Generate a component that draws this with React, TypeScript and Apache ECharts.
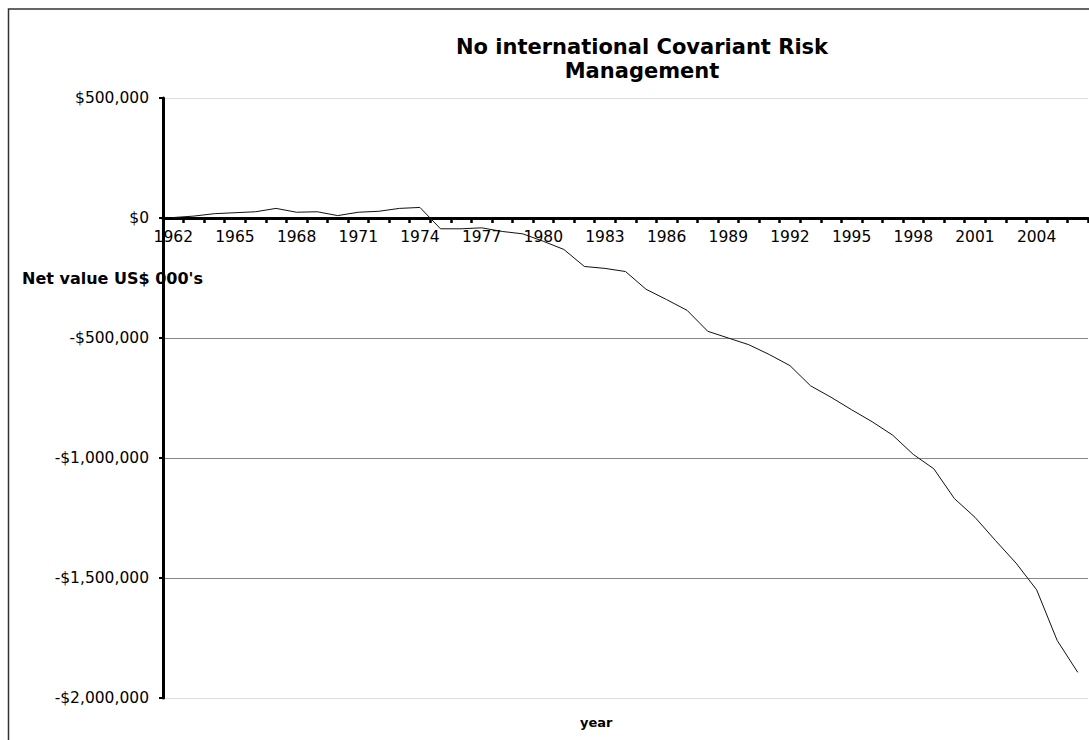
import React, { useEffect, useRef } from "react";
import * as echarts from "echarts";

// Years on the category axis
const years: string[] = [];
for (let y = 1962; y <= 2006; y++) years.push(String(y));

// Net value per year (US$ 000's)
const netValue: number[] = [
  2000, 8000, 18000, 22000, 26000, 40000, 24000, 26000, 10000, 24000,
  28000, 40000, 44000, -45000, -45000, -41000, -56000, -66000, -97000, -131000,
  -202000, -210000, -223000, -297000, -340000, -385000, -472000, -500000, -528000, -569000,
  -615000, -699000, -747000, -799000, -849000, -905000, -985000, -1045000, -1169000, -1247000,
  -1344000, -1438000, -1549000, -1760000, -1893000,
];

const titleText = "No international Covariant Risk\nManagement";
const yAxisName = "Net value US$ 000's";
const xAxisName = "year";

const FONT = "DejaVu Sans";

const Y_MIN = -2000000;
const Y_MAX = 500000;
const GRID_TOP = 98;
const GRID_HEIGHT = 600;
// distance from the bottom of the grid up to the zero line
const zeroOffset = -GRID_HEIGHT * (0 - Y_MIN) / (Y_MAX - Y_MIN);

const money = (v: number) =>
  (v < 0 ? "-" : "") + "$" + Math.abs(v).toLocaleString("en-US");

export default function App() {
  const ref = useRef<HTMLDivElement>(null);

  useEffect(() => {
    if (!ref.current) return;
    const chart = echarts.init(ref.current, undefined, { renderer: "svg" });
    chart.setOption({
      animation: false,
      backgroundColor: "#ffffff",
      title: {
        text: titleText,
        left: 637,
        top: 30,
        textAlign: "center",
        textStyle: {
          fontFamily: FONT,
          fontSize: 21,
          fontWeight: "bold",
          lineHeight: 24,
          color: "#000",
        },
      },
      grid: { left: 163, top: GRID_TOP, width: 925, height: GRID_HEIGHT },
      xAxis: {
        type: "category",
        data: years,
        boundaryGap: true,
        offset: zeroOffset,
        axisLine: { onZero: false, lineStyle: { color: "#000", width: 3 } },
        axisTick: {
          show: true,
          interval: 0,
          length: 5,
          lineStyle: { color: "#000", width: 2.5 },
        },
        axisLabel: {
          interval: 2,
          margin: 11,
          color: "#000",
          fontFamily: FONT,
          fontSize: 15.5,
        },
        splitLine: { show: false },
        z: 3,
      },
      yAxis: {
        type: "value",
        min: Y_MIN,
        max: Y_MAX,
        interval: 500000,
        axisLine: { show: true, lineStyle: { color: "#000", width: 3 } },
        axisTick: { show: true, length: 4, lineStyle: { color: "#000", width: 2 } },
        axisLabel: {
          formatter: money,
          margin: 14,
          color: "#000",
          fontFamily: FONT,
          fontSize: 15.5,
        },
        splitLine: {
          show: true,
          lineStyle: {
            color: ["#dddddd", "#888888", "#888888", "#888888", "#888888", "#dddddd"],
            width: 1,
          },
        },
      },
      graphic: [
        {
          type: "rect",
          shape: { x: 8.5, y: 9, width: 1200, height: 800 },
          style: { fill: "none", stroke: "#333", lineWidth: 1.5 },
          silent: true,
          z: -1,
        },
        {
          type: "text",
          left: 22,
          top: 270,
          style: {
            text: yAxisName,
            fill: "#000",
            font: `bold 16px "${FONT}"`,
          },
          z: 10,
        },
        {
          type: "text",
          left: 580,
          top: 716,
          style: {
            text: xAxisName,
            fill: "#000",
            font: `bold 13px "${FONT}"`,
          },
        },
      ],
      series: [
        {
          type: "line",
          data: netValue,
          showSymbol: false,
          symbol: "none",
          lineStyle: { color: "#111", width: 1 },
        },
      ],
    });
    return () => chart.dispose();
  }, []);

  return (
    <div
      ref={ref}
      style={{ position: "absolute", left: 0, top: 0, width: 1089, height: 740, background: "#fff" }}
    />
  );
}
